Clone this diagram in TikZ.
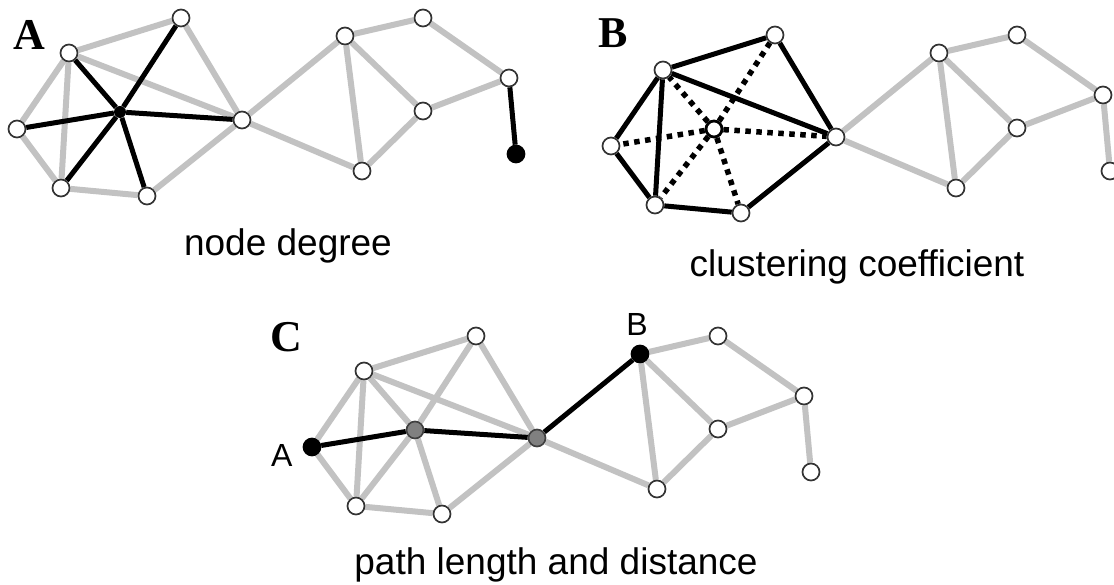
\documentclass[tikz,border=0pt]{standalone}
\usepackage{fontspec}
\setmainfont{Liberation Serif}
\setsansfont{Liberation Sans}
\usetikzlibrary{positioning}
\pgfdeclarelayer{edges}
\pgfsetlayers{edges,main}

\begin{document}
\begin{tikzpicture}[
    x=1pt, y=-1pt,
    vtx/.style={circle, draw=black!80, fill=white, line width=1.7pt,
                minimum size=17pt, inner sep=0pt},
    blackvtx/.style={vtx, fill=black, draw=black},
    grayvtx/.style={vtx, fill=black!50, draw=black!75},
    hubvtx/.style={circle, fill=black, minimum size=12pt, inner sep=0pt},
    midvtx/.style={vtx, draw=black, line width=2.8pt, minimum size=16pt},
    lite/.style={line width=6pt, draw=black!24},
    heavy/.style={line width=5pt, draw=black},
    dotline/.style={line width=5.5pt, draw=black, dash pattern=on 5.5pt off 5.5pt},
    panel/.style={font=\fontsize{44}{46}\selectfont\bfseries},
    caption/.style={font=\sffamily\fontsize{37}{42}\selectfont},
    ptlabel/.style={font=\sffamily\fontsize{32}{36}\selectfont, inner sep=0pt}
  ]
  \useasboundingbox (0,0) rectangle (1114,585);

  % --- A: node degree ---
  \node[panel] (tagA) at (29,35) {A};
  \node[vtx] (a1) at (17,129) {};
  \node[vtx] (b1) at (69,53) {};
  \node[hubvtx] (c1) at (120,112) {};
  \node[vtx] (d1) at (181,18) {};
  \node[vtx] (e1) at (242,120) {};
  \node[vtx] (f1) at (61,188) {};
  \node[vtx] (g1) at (147,196) {};
  \node[vtx] (h1) at (345,36) {};
  \node[vtx] (i1) at (423,18) {};
  \node[vtx] (j1) at (423,111) {};
  \node[vtx] (k1) at (362,171) {};
  \node[vtx] (l1) at (509,78) {};
  \node[blackvtx] (m1) at (516,154) {};
  \begin{pgfonlayer}{edges}
    \foreach \u/\v in {a/b,a/f,b/f,b/d,b/e,d/e,f/g,g/e,e/h,e/k,h/i,h/j,h/k,i/l,j/l,j/k}
      \draw[lite] (\u1) -- (\v1);
    \foreach \v in {a,b,d,e,f,g}
      \draw[heavy] (c1) -- (\v1);
    \draw[heavy] (l1) -- (m1);
  \end{pgfonlayer}
  \node[caption] (capA) at (288,246) {node degree};

  % --- B: clustering coefficient ---
  \begin{scope}[shift={(594,17)}]
    \node[vtx] (a2) at (17,129) {};
    \node[vtx] (b2) at (69,53) {};
    \node[midvtx] (c2) at (120,112) {};
    \node[vtx] (d2) at (181,18) {};
    \node[vtx] (e2) at (242,120) {};
    \node[vtx] (f2) at (61,188) {};
    \node[vtx] (g2) at (147,196) {};
    \node[vtx] (h2) at (345,36) {};
    \node[vtx] (i2) at (423,18) {};
    \node[vtx] (j2) at (423,111) {};
    \node[vtx] (k2) at (362,171) {};
    \node[vtx] (l2) at (509,78) {};
    \node[vtx] (m2) at (516,154) {};
  \end{scope}
  \node[panel] (tagB) at (613,33) {B};
  \begin{pgfonlayer}{edges}
    \foreach \u/\v in {e/h,e/k,h/i,h/j,h/k,i/l,j/l,j/k,l/m}
      \draw[lite] (\u2) -- (\v2);
    \foreach \u/\v in {a/b,a/f,b/f,b/d,b/e,d/e,f/g,g/e}
      \draw[heavy] (\u2) -- (\v2);
    \foreach \v in {a,b,d,e,f,g}
      \draw[dotline] (c2) -- (\v2);
  \end{pgfonlayer}
  \node[caption] (capB) at (857,267) {clustering coefficient};

  % --- C: path length and distance ---
  \begin{scope}[shift={(295,318)}]
    \node[blackvtx] (a3) at (17,129) {};
    \node[vtx] (b3) at (69,53) {};
    \node[grayvtx] (c3) at (120,112) {};
    \node[vtx] (d3) at (181,18) {};
    \node[grayvtx] (e3) at (242,120) {};
    \node[vtx] (f3) at (61,188) {};
    \node[vtx] (g3) at (147,196) {};
    \node[blackvtx] (h3) at (345,36) {};
    \node[vtx] (i3) at (423,18) {};
    \node[vtx] (j3) at (423,111) {};
    \node[vtx] (k3) at (362,171) {};
    \node[vtx] (l3) at (509,78) {};
    \node[vtx] (m3) at (516,154) {};
  \end{scope}
  \node[panel] (tagC) at (286,337) {C};
  \node[ptlabel, left=10pt of a3, yshift=-8pt] (endA) {A};
  \node[ptlabel, above=9pt of h3, xshift=-3pt] (endB) {B};
  \begin{pgfonlayer}{edges}
    \foreach \u/\v in {a/b,a/f,b/c,b/f,b/d,b/e,c/d,c/f,c/g,d/e,f/g,g/e,e/k,h/i,h/j,h/k,i/l,j/l,j/k,l/m}
      \draw[lite] (\u3) -- (\v3);
    \draw[heavy] (a3) -- (c3) -- (e3) -- (h3);
  \end{pgfonlayer}
  \node[caption] (capC) at (556,565) {path length and distance};
\end{tikzpicture}
\end{document}
